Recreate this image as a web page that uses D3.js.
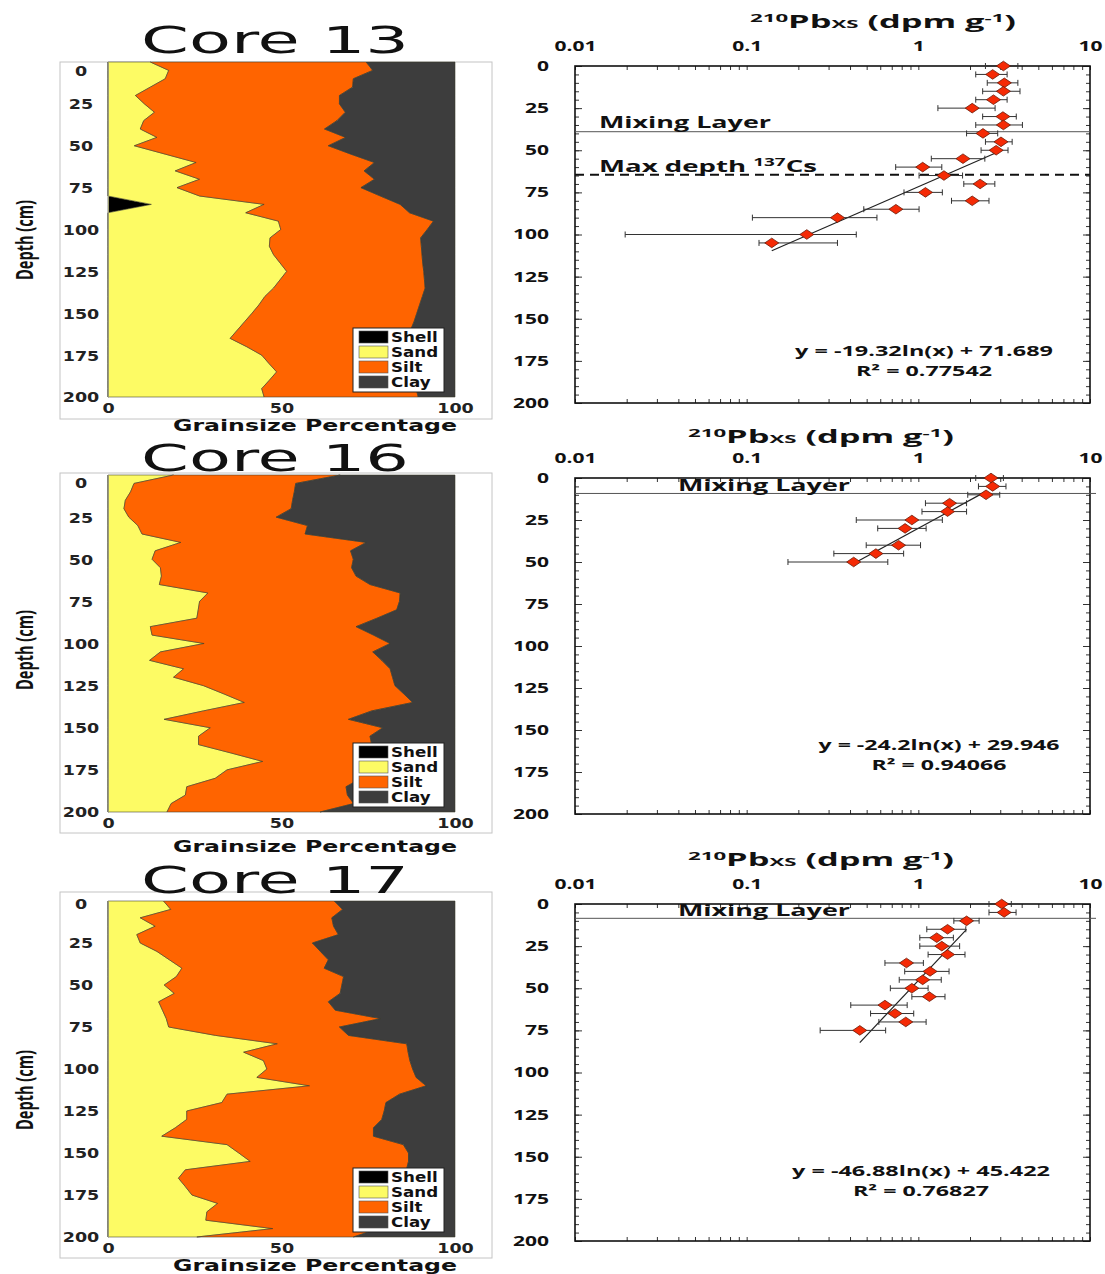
<!DOCTYPE html>
<html>
<head>
<meta charset="utf-8">
<script src="https://cdn.jsdelivr.net/npm/d3@7"></script>
<style>
body { margin: 0; background: #fff; }
svg { display: block; }
</style>
</head>
<body>
<svg id="chart" width="1105" height="1274"></svg>
<script>
// ---- grain size profiles (percent), sampled every 5 cm ----
const depths = [0,5,10,15,20,25,30,35,40,45,50,55,60,65,70,75,80,85,90,95,100,105,110,115,120,125,130,135,140,145,150,155,160,165,170,175,180,185,190,195,200];

const core13Shell = [0,0,0,0,0,0,0,0,0,0,0,0,0,0,0,0,0,12.5,0,0,0,0,0,0,0,0,0,0,0,0,0,0,0,0,0,0,0,0,0,0,0];
const core13Sand  = [12.2,17.5,16.5,12.2,7.9,10.5,13.4,10.3,9.3,14.1,7.6,16.5,25.4,19.4,26.4,19.9,26.4,32.5,39.7,49.1,49.8,46.7,46.5,47.7,49.6,51.5,49.6,47.7,45.2,43.5,41.5,39.4,37.3,35.2,40.0,44.3,46.4,48.6,46.5,44.3,45.0];
const core13Silt  = [62.2,58.8,54.2,58.3,58.8,56.2,55.0,55.7,53.1,54.4,55.9,53.5,51.4,54.4,50.4,53.0,52.1,39.2,47.2,44.7,42.2,43.4,43.8,42.8,41.1,39.5,41.6,43.7,45.4,46.3,47.5,48.8,49.9,51.4,46.9,42.9,41.2,39.4,41.9,44.5,44.4];
const core13Clay  = [25.6,23.7,29.3,29.5,33.3,33.3,31.6,34.0,37.6,31.5,36.5,30.0,23.2,26.2,23.2,27.1,21.5,15.8,13.1,6.2,8.0,9.9,9.7,9.5,9.3,9.0,8.8,8.6,9.4,10.2,11.0,11.8,12.8,13.4,13.1,12.8,12.4,12.0,11.6,11.2,10.6];

const core16Shell = [0,0,0,0,0,0,0,0,0,0,0,0,0,0,0,0,0,0,0,0,0,0,0,0,0,0,0,0,0,0,0,0,0,0,0,0,0,0,0,0,0];
const core16Sand  = [18.9,7.5,6.5,5.0,4.6,6.0,8.6,9.8,21.0,13.6,12.7,15.1,15.4,14.8,28.8,26.4,26.0,25.6,12.2,12.7,27.7,15.1,12.0,21.8,18.9,27.5,33.5,39.3,27.5,16.2,29.5,26.1,26.1,35.5,44.6,34.3,30.9,22.7,22.3,18.2,17.0];
const core16Silt  = [48.0,46.6,47.2,48.2,48.2,42.5,48.9,47.0,53.4,56.3,58.0,55.1,56.1,60.7,55.4,57.6,57.2,51.9,59.3,63.8,53.6,61.2,66.9,59.5,63.1,55.2,51.8,48.5,48.5,53.1,49.7,49.4,49.9,41.5,33.4,41.7,42.1,45.9,46.7,52.6,44.1];
const core16Clay  = [33.1,45.9,46.3,46.8,47.2,51.5,42.5,43.2,25.6,30.1,29.3,29.8,28.5,24.5,15.8,16.0,16.8,22.5,28.5,23.5,18.7,23.7,21.1,18.7,18.0,17.3,14.7,12.2,24.0,30.7,20.8,24.5,24.0,23.0,22.0,24.0,27.0,31.4,31.0,29.2,38.9];

const core17Shell = [0,0,0,0,0,0,0,0,0,0,0,0,0,0,0,0,0,0,0,0,0,0,0,0,0,0,0,0,0,0,0,0,0,0,0,0,0,0,0,0,0];
const core17Sand  = [16.0,18.1,9.3,13.6,8.3,9.3,14.1,17.7,21.3,19.7,16.2,19.1,14.6,15.7,16.8,17.5,31.0,48.8,39.1,44.8,45.8,42.9,58.1,34.3,32.8,22.7,22.7,19.4,15.5,34.3,37.7,41.0,22.3,20.3,22.3,24.2,31.6,28.5,28.2,47.5,25.6];
const core17Silt  = [49.2,49.5,55.2,51.4,58.1,49.6,47.1,45.8,41.0,48.2,51.2,47.8,48.9,49.8,61.8,49.2,38.3,37.3,47.4,42.2,42.0,45.9,33.6,49.7,47.3,56.9,56.2,57.1,61.0,50.8,48.9,45.6,63.7,64.7,61.7,58.8,50.4,52.5,51.8,30.5,45.1];
const core17Clay  = [34.8,32.4,35.5,35.0,33.6,41.1,38.8,36.5,37.7,32.1,32.6,33.1,36.5,34.5,21.4,33.3,30.7,13.9,13.5,13.0,12.2,11.2,8.3,16.0,19.9,20.4,21.1,23.5,23.5,14.9,13.4,13.4,14.0,15.0,16.0,17.0,18.0,19.0,20.0,22.0,29.3];

// ---- 210Pb excess activity (dpm/g) with error range ----
const core13PbDepth = [0,5,10,15,20,25,30,35,40,45,50,55,60,65,70,75,80,85,90,100,105];
const core13Pb      = [3.13,2.71,3.17,3.13,2.74,2.06,3.11,3.13,2.38,3.03,2.84,1.82,1.06,1.41,2.29,1.10,2.06,0.74,0.338,0.224,0.140];
const core13PbLow   = [2.46,2.16,2.52,2.37,2.16,1.30,2.37,2.16,1.91,2.46,2.32,1.19,0.738,1.01,1.84,0.825,1.56,0.481,0.108,0.0196,0.118];
const core13PbHigh  = [3.80,3.29,3.80,3.91,3.29,2.80,3.72,4.04,2.90,3.52,3.33,2.44,1.37,1.81,2.79,1.38,2.58,1.01,0.574,0.435,0.338];

const core16PbDepth = [0,5,10,15,20,25,30,40,45,50];
const core16Pb      = [2.65,2.71,2.48,1.52,1.48,0.917,0.837,0.767,0.566,0.42];
const core16PbLow   = [2.16,2.24,1.94,1.10,1.05,0.435,0.580,0.497,0.322,0.174];
const core16PbHigh  = [3.13,3.24,2.98,1.91,1.91,1.38,1.11,1.03,0.821,0.664];

const core17PbDepth = [0,5,10,15,20,25,30,35,40,45,50,55,60,65,70,75];
const core17Pb      = [3.06,3.16,1.91,1.48,1.28,1.37,1.48,0.853,1.17,1.06,0.917,1.16,0.639,0.731,0.845,0.456];
const core17PbLow   = [2.58,2.58,1.61,1.12,1.02,1.02,1.14,0.639,0.833,0.774,0.687,0.917,0.404,0.527,0.589,0.268];
const core17PbHigh  = [3.48,3.71,2.26,1.89,1.60,1.74,1.87,1.07,1.51,1.36,1.14,1.43,0.861,0.940,1.11,0.645];

// log trend lines y = a ln(x) + b, drawn over the fitted x range
const fitSlope     = [-19.32, -24.2, -46.88];
const fitIntercept = [71.689, 29.946, 45.422];
const fitXMin      = [0.14, 0.42, 0.456];
const fitXMax      = [2.84, 2.48, 1.91];
const fitText      = ["y = -19.32ln(x) + 71.689", "y = -24.2ln(x) + 29.946", "y = -46.88ln(x) + 45.422"];
const r2Text       = ["R² = 0.77542", "R² = 0.94066", "R² = 0.76827"];

const mixingDepth = [39, 9.2, 8.5];
const csMaxDepth  = 64.5;   // only core 13

const coreNames  = ["Core 13", "Core 16", "Core 17"];
const depthTicks = [0,25,50,75,100,125,150,175,200];
const pctTicks   = [0,50,100];
const pbTicks    = [0.01,0.1,1,10];
const grainKeys  = ["shell","sand","silt","clay"];
const grainNames = ["Shell","Sand","Silt","Clay"];

const colors = { shell: "#000000", sand: "#fdfb64", silt: "#ff6400", clay: "#3d3d3d" };

const grain = [
  { shell: core13Shell, sand: core13Sand, silt: core13Silt, clay: core13Clay },
  { shell: core16Shell, sand: core16Sand, silt: core16Silt, clay: core16Clay },
  { shell: core17Shell, sand: core17Sand, silt: core17Silt, clay: core17Clay }
];
const pb = [
  { depth: core13PbDepth, val: core13Pb, lo: core13PbLow, hi: core13PbHigh },
  { depth: core16PbDepth, val: core16Pb, lo: core16PbLow, hi: core16PbHigh },
  { depth: core17PbDepth, val: core17Pb, lo: core17PbLow, hi: core17PbHigh }
];

// ---- layout ----
const leftL = [
  { top: 62,  bottom: 397,  frameTop: 62,  frameBot: 419,  titleY: 53,  depthY: 240,  zeroDy: 8, legendTop: 328,  xTitleY: 431 },
  { top: 475, bottom: 812,  frameTop: 473, frameBot: 833,  titleY: 471, depthY: 650,  zeroDy: 7, legendTop: 743,  xTitleY: 852 },
  { top: 901, bottom: 1237, frameTop: 892, frameBot: 1258, titleY: 893, depthY: 1090, zeroDy: 2, legendTop: 1168, xTitleY: 1271 }
];
const rightL = [
  { top: 66,  bottom: 403,  titleX: 883, titleY: 28,  mixEnd: 1090, mixX: 599, mixAnchor: "start",  mixY: 128, eqX: 924, eqY: 356,  eqW: 258, r2W: 136 },
  { top: 478, bottom: 814,  titleX: 821, titleY: 443, mixEnd: 1096, mixX: 764, mixAnchor: "middle", mixY: 491, eqX: 939, eqY: 750,  eqW: 241, r2W: 135 },
  { top: 904, bottom: 1241, titleX: 821, titleY: 866, mixEnd: 1096, mixX: 764, mixAnchor: "middle", mixY: 916, eqX: 921, eqY: 1176, eqW: 258, r2W: 136 }
];

const svg = d3.select("#chart");
svg.append("rect").attr("width", 1105).attr("height", 1274).attr("fill", "#fff");

// stretch glyphs horizontally like the (widened) original figure
function stretch(sel, k) {
  sel.each(function() {
    const w = this.getComputedTextLength();
    this.setAttribute("textLength", w * k);
    this.setAttribute("lengthAdjust", "spacingAndGlyphs");
  });
}
function fitWidth(sel, w) {
  sel.attr("textLength", w).attr("lengthAdjust", "spacingAndGlyphs");
}

const boldSans = "'DejaVu Sans', sans-serif";
const calib = "'Open Sans', sans-serif";

coreNames.forEach((name, i) => {
  const L = leftL[i], R = rightL[i];

  // ================= grain size panel =================
  const x = d3.scaleLinear().domain([0, 100]).range([108, 455]);
  const y = d3.scaleLinear().domain([0, 200]).range([L.top, L.bottom]);
  const g = svg.append("g");

  g.append("rect")
    .attr("x", 60).attr("y", L.frameTop)
    .attr("width", 432).attr("height", L.frameBot - L.frameTop)
    .attr("fill", "none").attr("stroke", "#c4c4c4").attr("stroke-width", 1);

  const rows = depths.map((d, j) => ({
    depth: d,
    shell: grain[i].shell[j], sand: grain[i].sand[j],
    silt: grain[i].silt[j], clay: grain[i].clay[j]
  }));
  const stacked = d3.stack().keys(grainKeys)(rows);
  const area = d3.area()
    .y(d => y(d.data.depth))
    .x0(d => x(d[0]))
    .x1(d => x(d[1]));

  g.selectAll(".layer").data(stacked).join("path")
    .attr("d", area)
    .attr("fill", d => colors[d.key])
    .attr("stroke", "#3a3a2a").attr("stroke-width", 0.7).attr("stroke-opacity", 0.8);

  // left depth labels
  const ya = g.append("g").attr("transform", "translate(108,0)")
    .call(d3.axisLeft(y).tickValues(depthTicks).tickSize(0).tickPadding(27));
  ya.select(".domain").attr("stroke", "#9a9a70").attr("stroke-width", 1);
  ya.selectAll("text")
    .attr("text-anchor", "middle")
    .attr("font-family", boldSans).attr("font-weight", "bold").attr("font-size", 14)
    .attr("fill", "#222")
    .attr("dy", d => d === 0 ? (L.zeroDy + 5) + "px" : "0.35em");
  stretch(ya.selectAll("text"), 1.25);

  const xa = g.append("g").attr("transform", `translate(0,${L.bottom})`)
    .call(d3.axisBottom(x).tickValues(pctTicks).tickSize(0).tickPadding(6));
  xa.select(".domain").remove();
  xa.selectAll("text")
    .attr("font-family", boldSans).attr("font-weight", "bold").attr("font-size", 14)
    .attr("fill", "#222");
  stretch(xa.selectAll("text"), 1.25);

  // title
  const t = g.append("text")
    .attr("x", 275).attr("y", L.titleY)
    .attr("text-anchor", "middle")
    .attr("font-family", "'DejaVu Sans', sans-serif").attr("font-size", 37)
    .attr("fill", "#111")
    .text(name);
  fitWidth(t, 268);

  // axis titles
  const xt = g.append("text")
    .attr("x", 315).attr("y", L.xTitleY)
    .attr("text-anchor", "middle")
    .attr("font-family", boldSans).attr("font-weight", "bold").attr("font-size", 15)
    .attr("fill", "#111")
    .text("Grainsize Percentage");
  fitWidth(xt, 284);

  g.append("g").attr("transform", `translate(25,${L.depthY}) scale(1.6,1)`)
    .append("text")
    .attr("transform", "rotate(-90)")
    .attr("text-anchor", "middle").attr("dy", "0.35em")
    .attr("font-family", calib).attr("font-weight", "bold").attr("font-size", 15)
    .attr("fill", "#111")
    .attr("textLength", 80).attr("lengthAdjust", "spacingAndGlyphs")
    .text("Depth (cm)");

  // legend
  const lg = g.append("g").attr("transform", `translate(353,${L.legendTop})`);
  lg.append("rect").attr("width", 91).attr("height", 64)
    .attr("fill", "#fff").attr("stroke", "#222").attr("stroke-width", 1);
  grainKeys.forEach((k, j) => {
    const cy = 9 + j * 15;
    lg.append("rect").attr("x", 6).attr("y", cy - 6).attr("width", 29).attr("height", 12)
      .attr("fill", colors[k]).attr("stroke", "#555").attr("stroke-width", 0.6);
    const lt = lg.append("text").attr("x", 38).attr("y", cy + 5)
      .attr("font-family", boldSans).attr("font-weight", "bold").attr("font-size", 14.5)
      .attr("fill", "#111").text(grainNames[j]);
    stretch(lt, 1.15);
  });

  // ================= 210Pb panel =================
  const px = d3.scaleLog().domain([0.01, 10]).range([575, 1090]);
  const py = d3.scaleLinear().domain([0, 200]).range([R.top, R.bottom]);
  const h = svg.append("g");

  const minorX = px.ticks();
  const minorY = d3.range(0, 201, 5);

  h.append("g").attr("transform", "translate(575,0)")
    .call(d3.axisLeft(py).tickValues(minorY).tickSize(-4).tickFormat(""))
    .call(a => a.select(".domain").remove());
  h.append("g").attr("transform", "translate(575,0)")
    .call(d3.axisLeft(py).tickValues(depthTicks).tickSize(-7).tickFormat(""))
    .call(a => a.select(".domain").remove());
  h.append("g").attr("transform", "translate(1090,0)")
    .call(d3.axisRight(py).tickValues(minorY).tickSize(-4).tickFormat(""))
    .call(a => a.select(".domain").remove());
  h.append("g").attr("transform", "translate(1090,0)")
    .call(d3.axisRight(py).tickValues(depthTicks).tickSize(-7).tickFormat(""))
    .call(a => a.select(".domain").remove());
  h.append("g").attr("transform", `translate(0,${R.top})`)
    .call(d3.axisTop(px).tickValues(minorX).tickSize(-4).tickFormat(""))
    .call(a => a.select(".domain").remove());
  h.append("g").attr("transform", `translate(0,${R.bottom})`)
    .call(d3.axisBottom(px).tickValues(minorX).tickSize(-4).tickFormat(""))
    .call(a => a.select(".domain").remove());
  h.selectAll(".tick line").attr("stroke", "#333").attr("stroke-width", 1);

  h.append("rect")
    .attr("x", 575).attr("y", R.top)
    .attr("width", 515).attr("height", R.bottom - R.top)
    .attr("fill", "none").attr("stroke", "#111").attr("stroke-width", 1.6);

  // tick labels
  const yl = h.append("g").attr("transform", "translate(575,0)")
    .call(d3.axisLeft(py).tickValues(depthTicks).tickSize(0).tickPadding(26));
  yl.select(".domain").remove();
  yl.selectAll("text").attr("font-family", calib).attr("font-weight", "bold")
    .attr("font-size", 14).attr("fill", "#111");
  stretch(yl.selectAll("text"), 1.5);

  const xl = h.append("g").attr("transform", `translate(0,${R.top})`)
    .call(d3.axisTop(px).tickValues(pbTicks).tickSize(0).tickPadding(15)
      .tickFormat(d => d < 1 ? String(d) : d3.format("d")(d)));
  xl.select(".domain").remove();
  xl.selectAll("text").attr("font-family", calib).attr("font-weight", "bold")
    .attr("font-size", 14).attr("fill", "#111");
  stretch(xl.selectAll("text"), 1.5);

  // axis title 210Pbxs (dpm g-1)
  const tt = h.append("text")
    .attr("x", R.titleX).attr("y", R.titleY)
    .attr("text-anchor", "middle")
    .attr("font-family", calib).attr("font-weight", "bold").attr("font-size", 17)
    .attr("fill", "#111");
  tt.append("tspan").attr("font-size", 11).attr("dy", -6).text("210");
  tt.append("tspan").attr("dy", 6).text("Pb");
  tt.append("tspan").attr("font-size", 11).text("XS");
  tt.append("tspan").text(" (dpm g");
  tt.append("tspan").attr("font-size", 11).attr("dy", -6).text("-1");
  tt.append("tspan").attr("dy", 6).text(")");
  fitWidth(tt, 266);

  // mixing layer
  h.append("line")
    .attr("x1", 575).attr("x2", R.mixEnd)
    .attr("y1", py(mixingDepth[i])).attr("y2", py(mixingDepth[i]))
    .attr("stroke", "#555").attr("stroke-width", 1);
  const ml = h.append("text")
    .attr("x", R.mixX).attr("y", R.mixY)
    .attr("text-anchor", R.mixAnchor)
    .attr("font-family", calib).attr("font-weight", "bold").attr("font-size", 16)
    .attr("fill", "#111").text("Mixing Layer");
  fitWidth(ml, 172);

  if (i === 0) {
    h.append("line")
      .attr("x1", 575).attr("x2", 1090)
      .attr("y1", py(csMaxDepth)).attr("y2", py(csMaxDepth))
      .attr("stroke", "#111").attr("stroke-width", 2)
      .attr("stroke-dasharray", "9,6");
    const cs = h.append("text")
      .attr("x", 599).attr("y", 172)
      .attr("font-family", calib).attr("font-weight", "bold").attr("font-size", 16)
      .attr("fill", "#111");
    cs.append("tspan").text("Max depth ");
    cs.append("tspan").attr("font-size", 11).attr("dy", -6).text("137");
    cs.append("tspan").attr("dy", 6).text("Cs");
    fitWidth(cs, 218);
  }

  // trend line
  const fitLine = d3.line().x(v => px(v)).y(v => py(fitSlope[i] * Math.log(v) + fitIntercept[i]));
  h.append("path")
    .attr("d", fitLine([fitXMin[i], fitXMax[i]]))
    .attr("fill", "none").attr("stroke", "#222").attr("stroke-width", 1.2);

  // error bars + diamonds
  const pts = pb[i].depth.map((d, j) => ({ depth: d, v: pb[i].val[j], lo: pb[i].lo[j], hi: pb[i].hi[j] }));
  const eb = h.append("g").attr("stroke", "#333").attr("stroke-width", 1);
  eb.selectAll(".bar").data(pts).join("line")
    .attr("x1", d => px(d.lo)).attr("x2", d => px(d.hi))
    .attr("y1", d => py(d.depth)).attr("y2", d => py(d.depth));
  eb.selectAll(".capl").data(pts).join("line")
    .attr("x1", d => px(d.lo)).attr("x2", d => px(d.lo))
    .attr("y1", d => py(d.depth) - 3).attr("y2", d => py(d.depth) + 3);
  eb.selectAll(".caph").data(pts).join("line")
    .attr("x1", d => px(d.hi)).attr("x2", d => px(d.hi))
    .attr("y1", d => py(d.depth) - 3).attr("y2", d => py(d.depth) + 3);

  const diamond = "M0,-4.8L7,0L0,4.8L-7,0Z";
  h.selectAll(".pt").data(pts).join("path")
    .attr("d", diamond)
    .attr("transform", d => `translate(${px(d.v)},${py(d.depth)})`)
    .attr("fill", "#f52a05").attr("stroke", "#6a1a08").attr("stroke-width", 0.8);

  // equation
  const eq = h.append("text")
    .attr("x", R.eqX).attr("y", R.eqY).attr("text-anchor", "middle")
    .attr("font-family", calib).attr("font-weight", "bold").attr("font-size", 14)
    .attr("fill", "#111").text(fitText[i]);
  fitWidth(eq, R.eqW);
  const r2 = h.append("text")
    .attr("x", R.eqX).attr("y", R.eqY + 20).attr("text-anchor", "middle")
    .attr("font-family", calib).attr("font-weight", "bold").attr("font-size", 14)
    .attr("fill", "#111").text(r2Text[i]);
  fitWidth(r2, R.r2W);
});
</script>
</body>
</html>
